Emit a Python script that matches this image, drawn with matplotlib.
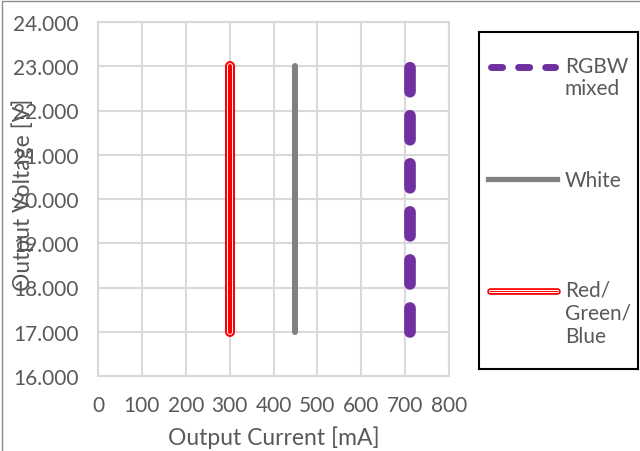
import matplotlib.pyplot as plt
from matplotlib.patches import Rectangle

plt.rcParams['font.family'] = ['Lato', 'DejaVu Sans']
plt.rcParams['lines.scale_dashes'] = False

# series: (current mA, voltage V)
rgb_current = [300, 300]
rgb_voltage = [17, 23]
white_current = [450, 450]
white_voltage = [17, 23]
rgbw_current = [710, 710]
rgbw_voltage = [17, 23]

x_ticks = [0, 100, 200, 300, 400, 500, 600, 700, 800]
y_ticks = [16, 17, 18, 19, 20, 21, 22, 23, 24]

RED = '#ff0000'
GRAY = '#808080'
PURPLE = '#7030a0'
TXT = '#595959'
GRID = '#d9d9d9'

fig = plt.figure(figsize=(6.4, 4.52), dpi=100)

# outer chart border (only left/top visible)
fig.patches.append(Rectangle((2 / 640, -0.1), 1.2, 1.1 - 2 / 452, transform=fig.transFigure,
                             fill=False, edgecolor='#8c8c8c', lw=1.0))

ax = fig.add_axes([98 / 640, 1 - 377 / 452, 351 / 640, 354 / 452])

# red / green / blue: triple line
ax.plot(rgb_current, rgb_voltage, color=RED, lw=7.2, solid_capstyle='round', zorder=3)
ax.plot(rgb_current, rgb_voltage, color='white', lw=4.3, solid_capstyle='round', zorder=4)
ax.plot(rgb_current, rgb_voltage, color=RED, lw=2.9, solid_capstyle='round', zorder=5)

ax.plot(white_current, white_voltage, color=GRAY, lw=4.3, solid_capstyle='round', zorder=3)

ax.plot(rgbw_current, rgbw_voltage, color=PURPLE, lw=8.4, dashes=(17.3, 17.3),
        dash_capstyle='round', zorder=3)

ax.set_xlim(0, 800)
ax.set_ylim(16, 24)
ax.set_xticks(x_ticks)
ax.set_yticks(y_ticks)
ax.set_yticklabels([f'{v:.3f}' for v in y_ticks])
ax.grid(True, color=GRID, lw=1.5)
ax.set_axisbelow(True)
for s in ax.spines.values():
    s.set_color(GRID)
    s.set_linewidth(1.5)
ax.tick_params(length=0, labelsize=15, colors=TXT)
ax.tick_params(axis='y', pad=14)
ax.tick_params(axis='x', pad=14)

ax.set_xlabel('Output Current [mA]', fontsize=16.5, color=TXT, labelpad=7)
fig.text(23 / 640, 1 - 195 / 452, 'Output Voltage [V]', rotation=90, fontsize=16.5,
         color=TXT, ha='center', va='center')

# legend box
lg = fig.add_axes([479 / 640, 1 - 370 / 452, 159 / 640, 337 / 452])
lg.set_xlim(479, 638)
lg.set_ylim(370, 33)
lg.set_xticks([])
lg.set_yticks([])
for s in lg.spines.values():
    s.set_color('black')
    s.set_linewidth(1.5)

lg.plot([490.5, 554.5], [68, 68], color=PURPLE, lw=5.0, dashes=(8, 11.5), dash_capstyle='round')
lg.plot([488, 557], [180, 180], color=GRAY, lw=3.8)
lg.plot([490, 557], [292, 292], color=RED, lw=4.8, solid_capstyle='round')
lg.plot([490, 557], [292, 292], color='white', lw=2.2, solid_capstyle='round')
lg.plot([490, 557], [292, 292], color=RED, lw=0.7)

leg_lines = [('RGBW', 73), ('mixed', 95), ('White', 187),
             ('Red/', 297), ('Green/', 320), ('Blue', 343)]
for txt, base in leg_lines:
    lg.text(565, base, txt, fontsize=15, color=TXT, ha='left', va='baseline')

fig.savefig('out.png', dpi=100)
